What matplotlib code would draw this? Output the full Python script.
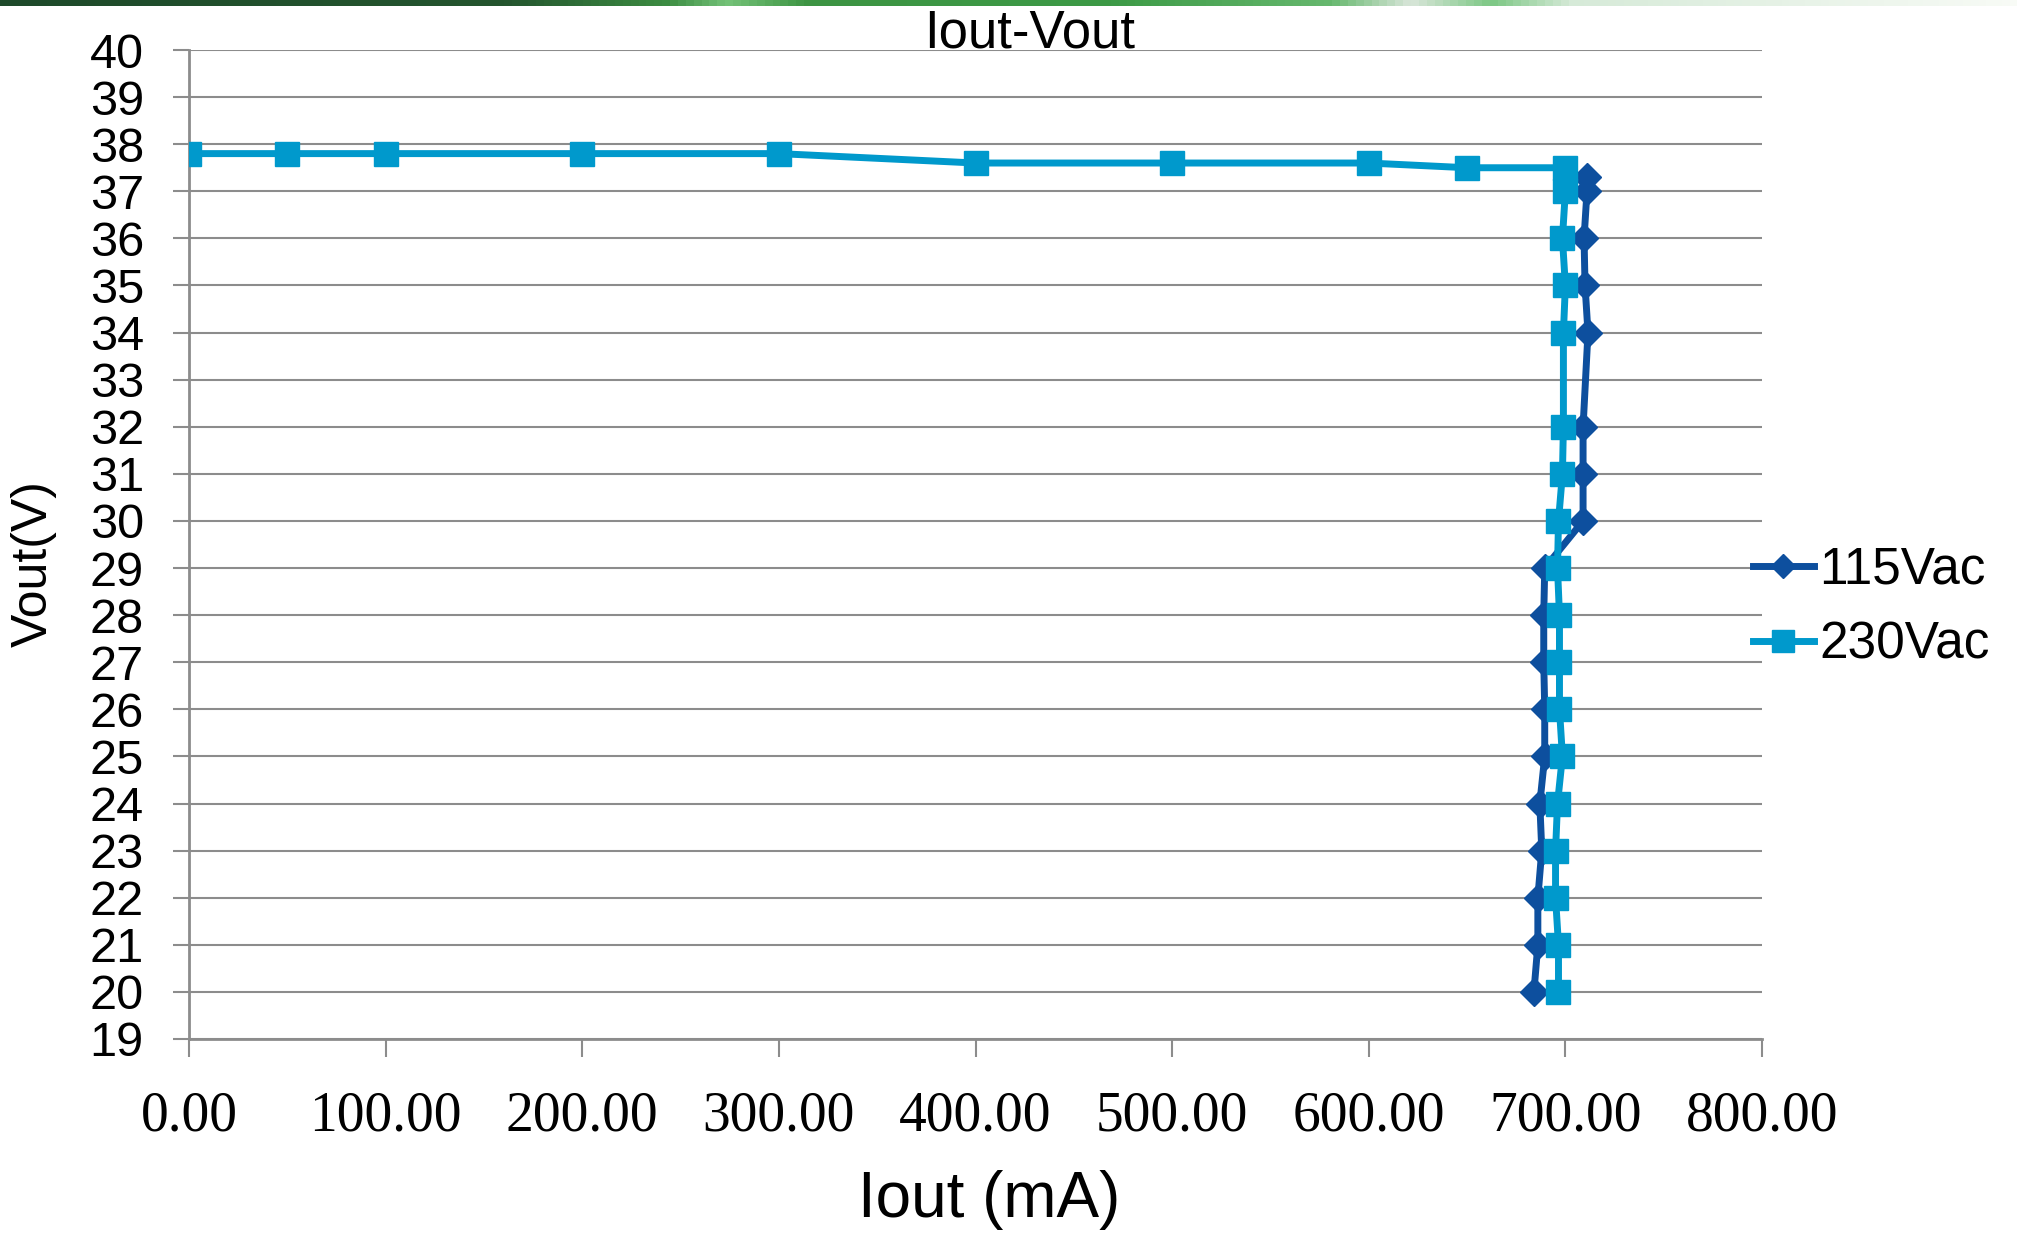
import matplotlib
matplotlib.use('Agg')
import matplotlib.pyplot as plt
import numpy as np
from matplotlib.colors import LinearSegmentedColormap

# data
iout_230 = [0, 50, 100, 200, 300, 400, 500, 600, 650, 700,
            700, 698.5, 700, 699, 699, 698.5, 696.5, 696, 697, 697, 697, 698.5, 696, 695, 695, 696.5, 696.5]
vout_230 = [37.8, 37.8, 37.8, 37.8, 37.8, 37.6, 37.6, 37.6, 37.5, 37.5,
            37, 36, 35, 34, 32, 31, 30, 29, 28, 27, 26, 25, 24, 23, 22, 21, 20]

iout_115 = [711, 711, 709.5, 710, 711.5, 709, 709, 709,
            689.5, 689, 689, 689.5, 689.5, 687, 688, 686, 686, 684]
vout_115 = [37.3, 37, 36, 35, 34, 32, 31, 30,
            29, 28, 27, 26, 25, 24, 23, 22, 21, 20]

x_ticks = [0, 100, 200, 300, 400, 500, 600, 700, 800]
y_ticks = list(range(19, 41))

c115 = '#0d4f9e'
c230 = '#0099cc'
grid_c = '#8c8c8c'

W, H = 2017, 1241
fig = plt.figure(figsize=(W / 100, H / 100), dpi=100)
plt.rcParams['font.family'] = ['Liberation Sans', 'DejaVu Sans']

ax = fig.add_axes([189 / W, 1 - 1039 / H, (1762 - 189) / W, (1039 - 50) / H])
ax.set_xlim(0, 800)
ax.set_ylim(19, 40)

ax.plot(iout_115, vout_115, color=c115, lw=5, marker='D', ms=14,
        mec=c115, mfc=c115, label='115Vac', zorder=3)
ax.plot(iout_230, vout_230, color=c230, lw=5, marker='s', ms=17,
        mec=c230, mfc=c230, label='230Vac', zorder=4)

ax.set_yticks(y_ticks)
ax.set_xticks(x_ticks)
ax.set_xticklabels(['%.2f' % v for v in x_ticks], family='Liberation Serif', fontsize=40)
ax.tick_params(axis='y', labelsize=35, direction='out', length=11.5, width=1.5,
               color=grid_c, pad=21)
ax.tick_params(axis='x', direction='out', length=13, width=1.5, color=grid_c, pad=24)
ax.grid(axis='y', color=grid_c, lw=1.5, zorder=0)
ax.set_axisbelow(True)

for loc, spine in ax.spines.items():
    if loc in ('left', 'bottom'):
        spine.set_color(grid_c)
        spine.set_linewidth(2)
    else:
        spine.set_visible(False)

ax.set_ylabel('Vout(V)', fontsize=36)
ax.yaxis.set_label_coords(-0.0985, 0.481)
ax.set_xlabel('Iout (mA)', fontsize=46)
ax.xaxis.set_label_coords(0.509, -0.163)
ax.xaxis.label.set_va('center')
ax.yaxis.label.set_va('center')

fig.text(1030 / W, 1 - 48 / H, 'Iout-Vout', fontsize=38, ha='center', va='baseline')

ax.legend(loc='center left', bbox_to_anchor=(0.994, 0.436), frameon=False,
          fontsize=37, handlelength=1.2, handletextpad=0.1, borderpad=0,
          borderaxespad=0, labelspacing=0.5, markerscale=0.9)

# green band along the top edge
band = fig.add_axes([0, 1 - 6 / H, 1, 6 / H])
band_cmap = LinearSegmentedColormap.from_list('band', [
    (0.0, '#1e4a2a'), (0.25, '#24552e'), (0.33, '#3c8c42'), (0.36, '#74c278'),
    (0.40, '#3d9443'), (0.55, '#3c9a46'), (0.66, '#66b86e'), (0.70, '#d9e6da'),
    (0.74, '#7cc784'), (0.78, '#d6ead8'), (1.0, '#f8fbf6')])
band.imshow(np.linspace(0, 1, 512)[None, :], aspect='auto', cmap=band_cmap)
band.axis('off')

fig.savefig('out.png', dpi=100)
